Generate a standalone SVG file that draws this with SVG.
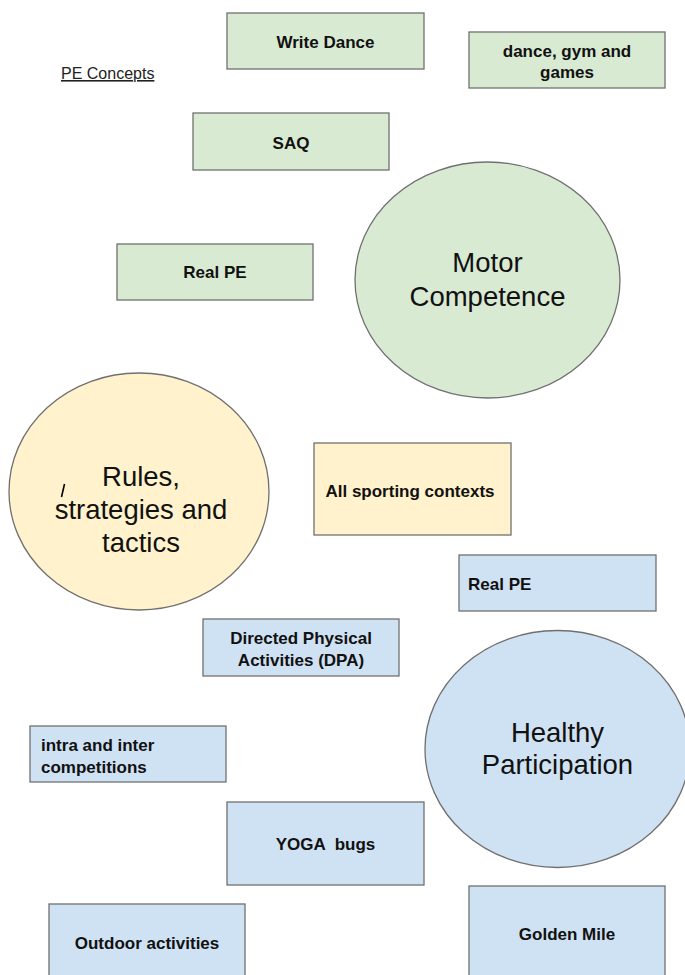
<svg xmlns="http://www.w3.org/2000/svg" width="685" height="975" viewBox="0 0 685 975">
<style>
.g{fill:#d9ead3;stroke:#707070;stroke-width:1.3}
.y{fill:#fff2cc;stroke:#707070;stroke-width:1.3}
.b{fill:#cfe2f3;stroke:#707070;stroke-width:1.3}
.t{font-family:"Liberation Sans",Arial,sans-serif;font-weight:bold;font-size:17px;fill:#111;text-anchor:middle}
.big{font-family:"Liberation Sans",Arial,sans-serif;font-size:27.5px;fill:#111;text-anchor:middle}
</style>
<rect width="685" height="975" fill="#fff"/>
<g id="title"><text x="61" y="79" font-family="Liberation Sans,Arial,sans-serif" font-size="16" fill="#222" text-decoration="underline">PE Concepts</text></g>
<g id="connectors"></g>
<g id="write-dance"><rect class="g" x="227" y="13" width="197" height="56"/><text class="t" x="325.5" y="48">Write Dance</text></g>
<g id="dance-gym"><rect class="g" x="469" y="32" width="196" height="56"/><text class="t" x="567" y="57">dance, gym and</text><text class="t" x="567" y="78">games</text></g>
<g id="saq"><rect class="g" x="193" y="113" width="196" height="57"/><text class="t" x="291" y="149">SAQ</text></g>
<g id="real-pe-1"><rect class="g" x="117" y="244" width="196" height="56"/><text class="t" x="215" y="278">Real PE</text></g>
<g id="motor"><ellipse class="g" cx="487.5" cy="280" rx="132.5" ry="118"/><text class="big" x="487.5" y="272">Motor</text><text class="big" x="487.5" y="306">Competence</text></g>
<g id="rules"><ellipse class="y" cx="139" cy="491.5" rx="130" ry="118.5"/><text class="big" x="141" y="486">Rules,</text><text class="big" x="141" y="519">strategies and</text><text class="big" x="141" y="552">tactics</text><line x1="64.5" y1="484" x2="61.5" y2="497" stroke="#000" stroke-width="1.6"/></g>
<g id="sporting"><rect class="y" x="314" y="443" width="197" height="92"/><text class="t" x="410" y="497">All sporting contexts</text></g>
<g id="real-pe-2"><rect class="b" x="459" y="555" width="197" height="56"/><text class="t" x="468" y="590" style="text-anchor:start">Real PE</text></g>
<g id="dpa"><rect class="b" x="203" y="619" width="196" height="57"/><text class="t" x="301" y="644">Directed Physical</text><text class="t" x="301" y="666">Activities (DPA)</text></g>
<g id="healthy"><ellipse class="b" cx="557.5" cy="749" rx="132.5" ry="118.5"/><text class="big" x="557.5" y="742">Healthy</text><text class="big" x="557.5" y="774">Participation</text></g>
<g id="intra"><rect class="b" x="30" y="726" width="196" height="56"/><text class="t" x="41" y="751" style="text-anchor:start">intra and inter</text><text class="t" x="41" y="773" style="text-anchor:start">competitions</text></g>
<g id="yoga"><rect class="b" x="227" y="802" width="197" height="83"/><text class="t" x="325.5" y="850" xml:space="preserve">YOGA  bugs</text></g>
<g id="outdoor"><rect class="b" x="49" y="904" width="196" height="80"/><text class="t" x="147" y="949">Outdoor activities</text></g>
<g id="golden"><rect class="b" x="469" y="886" width="196" height="98"/><text class="t" x="567" y="940">Golden Mile</text></g>
</svg>
